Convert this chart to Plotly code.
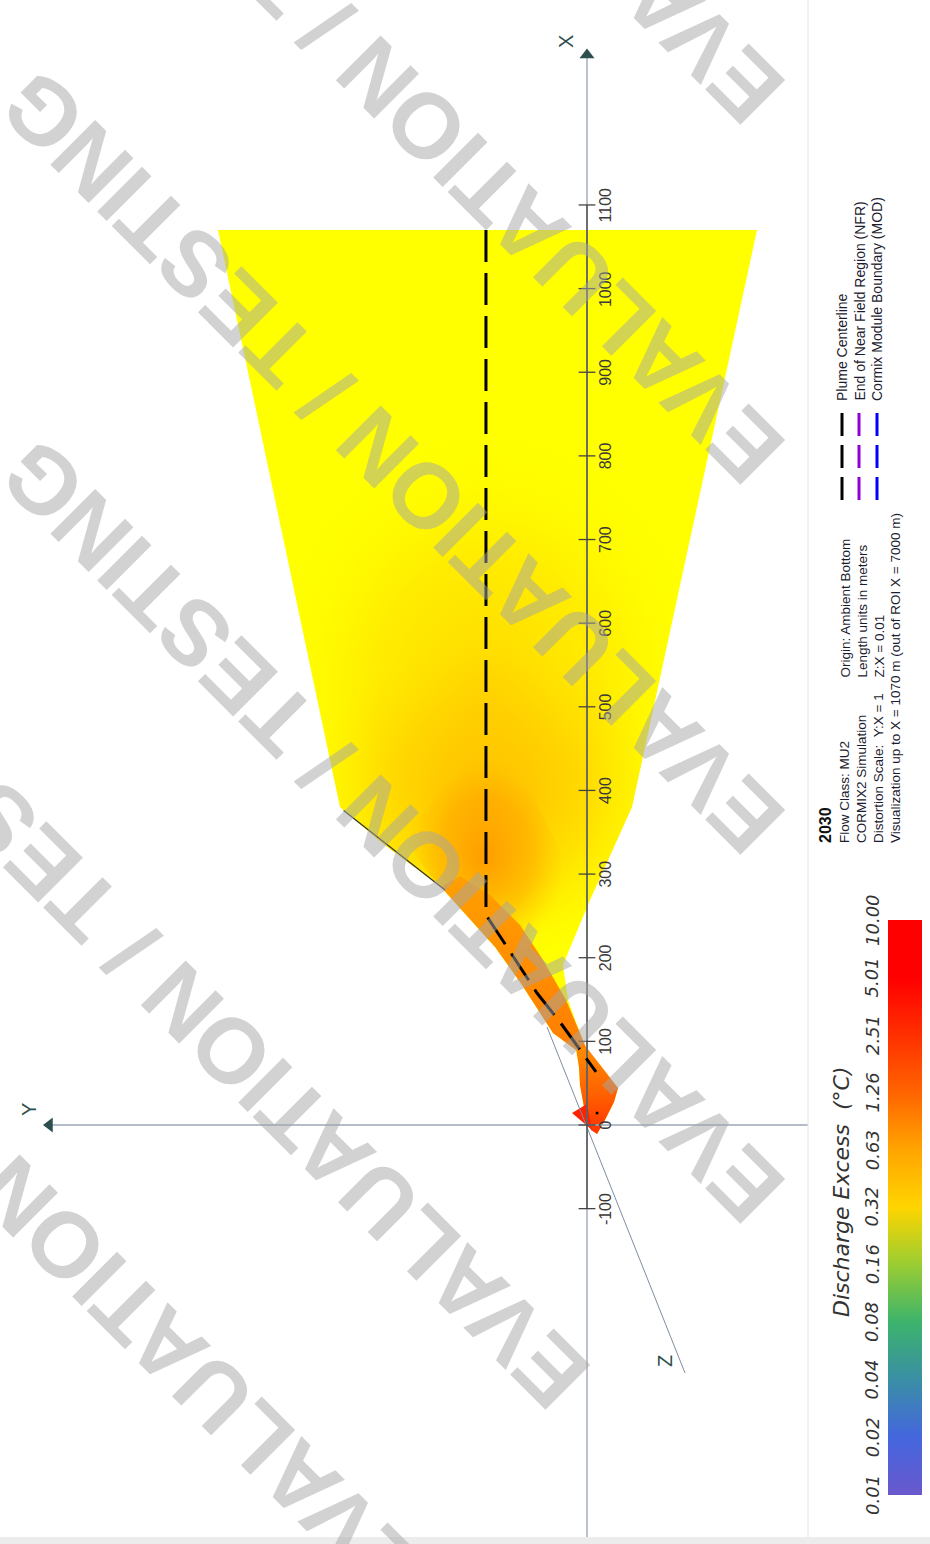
import numpy as np
import plotly.graph_objects as go

FIG_W, FIG_H = 930, 1544
PANEL_R = 808                 # right edge of the drawing panel (px)
PX_PER_M = 0.8364             # drawing scale, Y:X = 1
ORIGIN_PX = (587, 1125)       # screen position of the discharge origin

# ---------------- axes (metres) ----------------
x_tick_vals = [-100, 0, 100, 200, 300, 400, 500, 600, 700, 800, 900, 1000, 1100]
y_axis_Y = [642.6, -264.2]
x_axis_X = [-492.6, 1279.3]
x_scale_X = [-100, 1100]
z_axis_X = [117.2, -296.5]
z_axis_Y = [47.8, -117.2]

# ---------------- plume outline (X downstream, Y lateral, m) ----------------
plume_X = [1070, 380.2, 337.2, 284.6, 212.8, 167.4, 110.0, 89.7, 69.3, 47.8, 21.5, -6.0,
           -10.8, 3.6, 27.5, 44.2, 70.5, 89.7, 110.0, 149.5, 191.3, 269.0, 380.2, 1070]
plume_Y = [441.2, 295.3, 245.1, 174.6, 110.0, 77.7, 40.7, 13.2, 9.6, 8.4, 3.6, -6.0,
           -12.0, -20.3, -32.3, -37.1, -16.7, 0.0, 8.4, 22.7, 28.7, -3.6, -53.8, -203.3]

# warmer zones inside the plume
outer_zone_X = [842.9, 842.9, 380.2, 269.0, 197.3, 197.3, 212.8, 284.6, 337.2, 380.2]
outer_zone_Y = [393.3, -154.2, -53.8, -3.6, 26.3, 99.2, 110.0, 174.6, 245.1, 295.3]

mid_zone_X = [579.9, 579.9, 380.2, 269.0, 197.3, 197.3, 212.8, 284.6, 337.2, 380.2]
mid_zone_Y = [337.2, -96.8, -53.8, -3.6, 26.3, 99.2, 110.0, 174.6, 245.1, 295.3]

core_zone_X = [436.4, 400.5, 328.8, 263.0, 203.3, 209.2, 251.1, 298.9, 340.7, 400.5]
core_zone_Y = [127.9, 68.1, 32.3, 26.3, 56.2, 98.0, 139.9, 187.7, 217.6, 175.8]

band_X = [284.6, 212.8, 167.4, 110.0, 89.7, 89.7, 110.0, 149.5, 197.3, 239.1, 275.0, 297.7]
band_Y = [174.6, 110.0, 77.7, 40.7, 13.2, 0.0, 8.4, 25.1, 52.6, 80.1, 116.0, 151.8]

near_X = [92.1, 92.1, 70.5, 44.2, 27.5, 3.6, -10.8, -6.0, 21.5, 47.8, 69.3]
near_Y = [13.2, 0.0, -16.7, -37.1, -32.3, -20.3, -12.0, -4.8, 3.6, 8.4, 9.6]

port_X = [14.3, 25.1, -6.0]
port_Y = [17.9, 0.0, -6.0]

mod_edge_X = [376.0, 281.0]
mod_edge_Y = [291.0, 169.8]

# plume centerline
center_X = [1070, 251.1, 212.8, 157.8, 123.1, 89.7, 63.4]
center_Y = [120.8, 120.8, 95.6, 59.8, 32.3, 8.4, -10.8]
source_X = [14.3]
source_Y = [-12.0]

# ---------------- colour scale ----------------
cbar_values = [0.01, 0.02, 0.04, 0.08, 0.16, 0.32, 0.63, 1.26, 2.51, 5.01, 10.00]
cbar_labels = ["0.01", "0.02", "0.04", "0.08", "0.16", "0.32", "0.63", "1.26", "2.51", "5.01", "10.00"]
cbar_colors = ["#6a58cc", "#4466de", "#3a8ea6", "#3cb36c", "#9acd32", "#ffd500",
               "#ffa500", "#ff6400", "#ff3000", "#ff0000", "#ff0000"]

# ---------------- helpers ----------------
def px_x(px):
    return px / FIG_W


def px_y(py):
    return 1 - py / FIG_H


fig = go.Figure()


def zone(Xs, Ys, **kw):
    fig.add_trace(go.Scatter(x=Ys, y=Xs, mode="lines", fill="toself",
                             line=dict(width=0), hoverinfo="skip", showlegend=False, **kw))


def path(Xs, Ys, **kw):
    fig.add_trace(go.Scatter(x=Ys, y=Xs, mode="lines", hoverinfo="skip",
                             showlegend=False, **kw))


# plume body and warmer zones
zone(plume_X, plume_Y, fillcolor="#ffff00")
zone(outer_zone_X, outer_zone_Y,
     fillgradient=dict(type="radial",
                       colorscale=[[0, "rgba(255,192,0,0.62)"], [0.5, "rgba(255,208,0,0.4)"],
                                   [1, "rgba(255,255,0,0)"]]))
zone(mid_zone_X, mid_zone_Y,
     fillgradient=dict(type="radial",
                       colorscale=[[0, "rgba(255,168,0,0.7)"], [0.55, "rgba(255,185,0,0.38)"],
                                   [1, "rgba(255,215,0,0)"]]))
zone(core_zone_X, core_zone_Y,
     fillgradient=dict(type="radial",
                       colorscale=[[0, "rgba(255,150,0,0.9)"], [0.6, "rgba(255,162,0,0.5)"],
                                   [1, "rgba(255,185,0,0)"]]))
zone(band_X, band_Y,
     fillgradient=dict(type="vertical",
                       colorscale=[[0, "rgb(255,125,0)"], [1, "rgb(255,160,0)"]]))
zone(near_X, near_Y,
     fillgradient=dict(type="vertical",
                       colorscale=[[0, "rgb(255,50,0)"], [0.5, "rgb(255,100,0)"],
                                   [1, "rgb(255,140,0)"]]))
zone(port_X, port_Y, fillcolor="#ff2200")
path(mod_edge_X, mod_edge_Y, line=dict(color="#333333", width=1.2))

# axes
path(z_axis_X, z_axis_Y, line=dict(color="#7f8da0", width=1))
path([0, 0], y_axis_Y, line=dict(color="#9aa6b6", width=1.5))
path(x_axis_X, [0, 0], line=dict(color="#a4aebb", width=1.5))
path(x_scale_X, [0, 0], line=dict(color="#4a4a4a", width=1.4))
fig.add_trace(go.Scatter(x=[0] * len(x_tick_vals), y=x_tick_vals, mode="markers",
                         marker=dict(symbol="line-ew", size=12,
                                     line=dict(color="#444444", width=1.3)),
                         hoverinfo="skip", showlegend=False))

# centerline
path(center_X, center_Y, line=dict(color="#000000", width=3, dash="32px,11px"))
fig.add_trace(go.Scatter(x=source_Y, y=source_X, mode="markers",
                         marker=dict(color="#000000", size=3),
                         hoverinfo="skip", showlegend=False))

# axis arrows
fig.add_trace(go.Scatter(x=[0], y=[x_axis_X[1]], mode="markers",
                         marker=dict(symbol="triangle-up", size=13, color="#2f4f4f"),
                         hoverinfo="skip", showlegend=False))
fig.add_trace(go.Scatter(x=[y_axis_Y[0]], y=[0], mode="markers",
                         marker=dict(symbol="triangle-left", size=13, color="#2f4f4f"),
                         hoverinfo="skip", showlegend=False))

# colour bar
log_vals = np.log10(cbar_values)
cbar_scale = [[float((lv + 2) / 3), c] for lv, c in zip(log_vals, cbar_colors)]
fig.add_trace(go.Heatmap(z=[[lv, lv] for lv in log_vals], x=[0, 1], y=log_vals,
                         zmin=-2, zmax=1, colorscale=cbar_scale, zsmooth="best",
                         showscale=False, hoverinfo="skip", xaxis="x2", yaxis="y2"))

# ---------------- annotations ----------------
ann = []
sans = "Liberation Sans, Arial, sans-serif"

for t in x_tick_vals:
    ann.append(dict(x=-22.1, y=t, xref="x", yref="y", text=str(t), showarrow=False,
                    textangle=-90, xanchor="center", yanchor="middle",
                    font=dict(family=sans, size=16, color="#3a3a3a")))

for txt, yv, xv in [("X", 1294.8, 25.1), ("Y", 17.9, 667.1), ("Z", -282.2, -93.3)]:
    ann.append(dict(x=xv, y=yv, xref="x", yref="y", text=txt, showarrow=False,
                    textangle=-90, xanchor="center", yanchor="middle",
                    font=dict(family=sans, size=20, color="#2f4f4f")))

# colour bar labels and title
for lv, lab in zip(log_vals, cbar_labels):
    ann.append(dict(x=px_x(872), y=float(lv), xref="paper", yref="y2", text=lab,
                    showarrow=False, textangle=-90, xanchor="center", yanchor="middle",
                    font=dict(family="DejaVu Sans", size=18, color="#333333", style="italic")))
ann.append(dict(x=px_x(841), y=px_y(1192), xref="paper", yref="paper",
                text="Discharge Excess\u00a0\u00a0(°C)", showarrow=False, textangle=-90,
                xanchor="center", yanchor="middle",
                font=dict(family="DejaVu Sans", size=22, color="#333333", style="italic")))

# legend
legend_items = [("Plume Centerline", 842, "#000000"),
                ("End of Near Field Region (NFR)", 859, "#9400d3"),
                ("Cormix Module Boundary (MOD)", 877, "#0000ff")]
shapes = []
for label, xp, col in legend_items:
    shapes.append(dict(type="line", xref="paper", yref="paper",
                       x0=px_x(xp), x1=px_x(xp), y0=px_y(413), y1=px_y(500),
                       line=dict(color=col, width=3, dash="23px,9px")))
    ann.append(dict(x=px_x(xp), y=px_y(403), xref="paper", yref="paper", text=label,
                    showarrow=False, textangle=-90, xanchor="center", yanchor="bottom",
                    font=dict(family=sans, size=14, color="#1c1c30")))

# run description
ann.append(dict(x=px_x(826), y=px_y(845), xref="paper", yref="paper", text="<b>2030</b>",
                showarrow=False, textangle=-90, xanchor="center", yanchor="bottom",
                font=dict(family=sans, size=16, color="#111111")))
info_left = [("Flow Class: MU2", 845),
             ("CORMIX2 Simulation", 862),
             ("Distortion Scale:\u00a0\u00a0Y:X = 1", 879),
             ("Visualization up to X = 1070 m (out of ROI X = 7000 m)", 896)]
info_right = [("Origin: Ambient Bottom", 845),
              ("Length units in meters", 862),
              ("Z:X = 0.01", 879)]
for txt, xp in info_left:
    ann.append(dict(x=px_x(xp), y=px_y(845), xref="paper", yref="paper", text=txt,
                    showarrow=False, textangle=-90, xanchor="center", yanchor="bottom",
                    font=dict(family=sans, size=13.5, color="#1c1c30")))
for txt, xp in info_right:
    ann.append(dict(x=px_x(xp), y=px_y(680), xref="paper", yref="paper", text=txt,
                    showarrow=False, textangle=-90, xanchor="center", yanchor="bottom",
                    font=dict(family=sans, size=13.5, color="#1c1c30")))

# watermark
mark_centers = [(392, -268), (392, 92), (392, 462), (392, 831), (197, 1017), (31, 1211)]
for cx, cy in mark_centers:
    ann.append(dict(x=px_x(cx), y=px_y(cy), xref="paper", yref="paper",
                    text="EVALUATION / TESTING", showarrow=False, textangle=-135,
                    xanchor="center", yanchor="middle",
                    font=dict(family=sans, size=92, weight="bold",
                              color="rgba(165,165,165,0.5)")))

# panel frame
shapes.append(dict(type="line", xref="paper", yref="paper", x0=px_x(PANEL_R), x1=px_x(PANEL_R),
                   y0=px_y(1537), y1=1, line=dict(color="#e4e4e4", width=1)))
shapes.append(dict(type="rect", xref="paper", yref="paper", x0=0, x1=1, y0=0, y1=px_y(1537),
                   fillcolor="#ececec", line=dict(width=0)))

x_range = [ORIGIN_PX[0] / PX_PER_M, (ORIGIN_PX[0] - PANEL_R) / PX_PER_M]
y_range = [(ORIGIN_PX[1] - FIG_H) / PX_PER_M, ORIGIN_PX[1] / PX_PER_M]

fig.update_layout(
    width=FIG_W, height=FIG_H,
    margin=dict(l=0, r=0, t=0, b=0),
    paper_bgcolor="white", plot_bgcolor="rgba(0,0,0,0)",
    showlegend=False,
    xaxis=dict(domain=[0, PANEL_R / FIG_W], range=x_range, visible=False, fixedrange=True),
    yaxis=dict(domain=[0, 1], range=y_range, visible=False, fixedrange=True),
    xaxis2=dict(domain=[px_x(888), px_x(922)], range=[-0.5, 1.5], anchor="y2", visible=False),
    yaxis2=dict(domain=[px_y(1495), px_y(920)], range=[-2, 1], anchor="x2", visible=False),
    annotations=ann,
    shapes=shapes,
)

fig.write_html("out.html")
